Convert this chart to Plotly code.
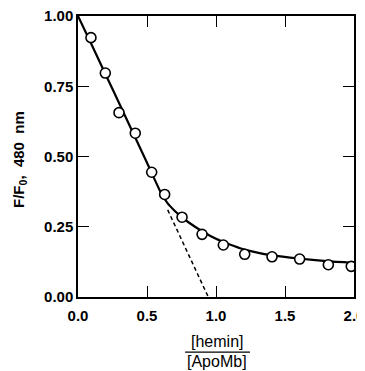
import plotly.graph_objects as go

# Measured data points (ratio [hemin]/[ApoMb], F/F0 at 480 nm)
ratio = [0.094, 0.198, 0.297, 0.415, 0.534, 0.628, 0.754, 0.899, 1.053, 1.208, 1.406, 1.606, 1.814, 1.98]
f_ratio = [0.923, 0.797, 0.656, 0.583, 0.444, 0.365, 0.284, 0.223, 0.185, 0.152, 0.143, 0.135, 0.115, 0.109]

# Fitted curve
fit_x = [0.0, 0.1, 0.2, 0.3, 0.4, 0.5, 0.6, 0.65, 0.7, 0.75, 0.8, 0.9, 1.0, 1.1, 1.2, 1.3, 1.4, 1.6, 1.8, 2.0]
fit_y = [1.0, 0.897, 0.792, 0.688, 0.583, 0.478, 0.372, 0.333, 0.307, 0.285, 0.266, 0.234, 0.207, 0.187, 0.170, 0.158, 0.149, 0.137, 0.128, 0.122]

# Extrapolated initial slope (dashed)
dash_x = [0.65, 0.944]
dash_y = [0.31, 0.0]

x_ticks = [0.0, 0.5, 1.0, 1.5, 2.0]
y_ticks = [0.0, 0.25, 0.5, 0.75, 1.0]

FONT = "Liberation Sans, Arial, Helvetica, sans-serif"
TICKFONT = dict(family=FONT, size=15, color="black", weight="bold")

fig = go.Figure()
fig.add_trace(go.Scatter(x=fit_x, y=fit_y, mode="lines",
                         line=dict(color="black", width=2.2, shape="spline", smoothing=0.6),
                         hoverinfo="skip", showlegend=False))
fig.add_trace(go.Scatter(x=dash_x, y=dash_y, mode="lines",
                         line=dict(color="black", width=1.5, dash="4px,3px"),
                         hoverinfo="skip", showlegend=False))
fig.add_trace(go.Scatter(x=ratio, y=f_ratio, mode="markers",
                         marker=dict(symbol="circle", size=10, color="white",
                                     line=dict(color="black", width=1.6)),
                         showlegend=False))

axis_common = dict(showline=True, linecolor="black", linewidth=1.5, mirror="ticks",
                   ticks="inside", ticklen=11, tickwidth=1.2, tickcolor="black",
                   showgrid=False, zeroline=False, tickfont=TICKFONT, automargin=False,
                   ticklabeloverflow="allow")

fig.update_xaxes(range=[0, 2], tickvals=x_ticks, ticklabelstandoff=4,
                 ticktext=[f"{v:.1f}" for v in x_ticks], **axis_common)
fig.update_yaxes(range=[0, 1], tickvals=y_ticks,
                 ticktext=[f"{v:.2f}" for v in y_ticks], **axis_common)

LABELFONT = dict(family=FONT, size=16, color="black")
fig.update_layout(
    width=357, height=363,
    margin=dict(l=70, r=11, t=8, b=74),
    plot_bgcolor="white", paper_bgcolor="white",
    font=dict(family=FONT, color="black"),
    annotations=[
        dict(text="F/F<sub>0</sub>,&nbsp; 480&nbsp; nm", xref="paper", yref="paper",
             x=-0.214, y=0.491, textangle=-90, showarrow=False,
             font=dict(family=FONT, size=15, color="black", weight="bold"),
             xanchor="center", yanchor="middle"),
        dict(text="[hemin]", xref="paper", yref="paper", x=0.5025, y=-0.157,
             showarrow=False, font=LABELFONT, yanchor="middle"),
        dict(text="[ApoMb]", xref="paper", yref="paper", x=0.5025, y=-0.231,
             showarrow=False, font=LABELFONT, yanchor="middle"),
    ],
    shapes=[dict(type="line", xref="paper", yref="paper", x0=0.388, x1=0.623,
                 y0=-0.196, y1=-0.196, line=dict(color="black", width=1.2))],
)

fig.write_html("out.html")
